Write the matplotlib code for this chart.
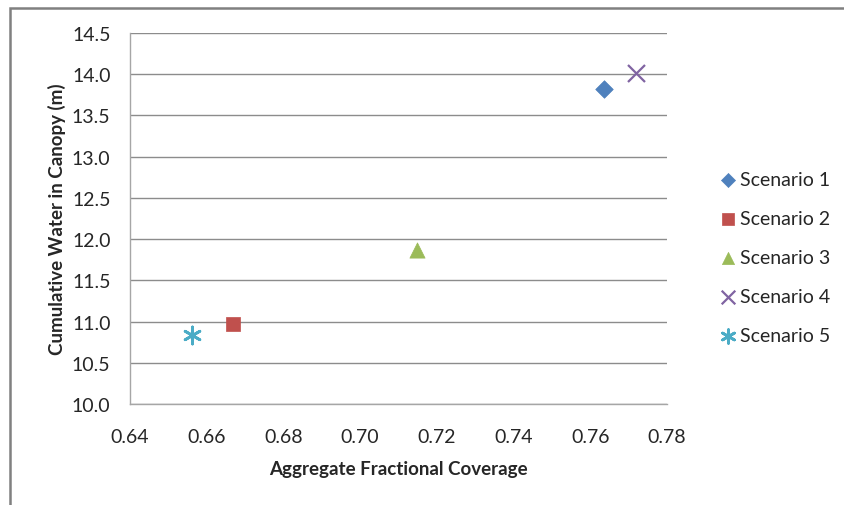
import matplotlib
matplotlib.use("Agg")
import matplotlib.pyplot as plt
from matplotlib.patches import Rectangle

scenarios = ["Scenario 1", "Scenario 2", "Scenario 3", "Scenario 4", "Scenario 5"]
coverage = [0.7636, 0.6669, 0.7148, 0.7719, 0.6562]
water = [13.82, 10.97, 11.87, 14.01, 10.835]
colors = ["#4F81BD", "#C0504D", "#9BBB59", "#8064A2", "#4BACC6"]
markers = ["D", "s", "^", "x", "*"]
sizes = [80, 110, 120, 150, 150]
xticks = [0.64, 0.66, 0.68, 0.70, 0.72, 0.74, 0.76, 0.78]
yticks = [10.0, 10.5, 11.0, 11.5, 12.0, 12.5, 13.0, 13.5, 14.0, 14.5]

plt.rcParams['font.family'] = ['Lato', 'DejaVu Sans']

W, H = 845, 506
fig = plt.figure(figsize=(W / 100, H / 100), dpi=100)
ax = fig.add_axes([130 / W, 1 - 405 / H, (667 - 130) / W, (405 - 34) / H])

for name, x, y, c, m, s in zip(scenarios, coverage, water, colors, markers, sizes):
    if m == "*":
        ax.scatter([x], [y], marker=(6, 2, 0), s=s, color=c, linewidths=2.0, label=name, zorder=3)
    elif m == "x":
        ax.scatter([x], [y], marker="x", s=s, color=c, linewidths=1.6, label=name, zorder=3)
    else:
        ax.scatter([x], [y], marker=m, s=s, color=c, edgecolors=c, linewidths=0.5, label=name, zorder=3)

ax.set_xlim(0.64, 0.78)
ax.set_ylim(10.0, 14.5)
ax.set_xticks(xticks)
ax.set_xticklabels([f"{v:.2f}" for v in xticks])
ax.set_yticks(yticks)
ax.set_yticklabels([f"{v:.1f}" for v in yticks])
ax.tick_params(axis='both', length=0, labelsize=14, colors='#262626')
ax.tick_params(axis='x', pad=17)
ax.tick_params(axis='y', pad=14)
ax.grid(axis='y', color='#8C8C8C', linewidth=1.0)
ax.set_axisbelow(True)
for side in ['top', 'right']:
    ax.spines[side].set_visible(False)
for side in ['left', 'bottom']:
    ax.spines[side].set_color('#A6A6A6')
    ax.spines[side].set_linewidth(1.0)

ax.set_xlabel("Aggregate Fractional Coverage", fontsize=13.5, fontweight='bold', color='#262626', labelpad=11)
ax.set_ylabel("Cumulative Water in Canopy (m)", fontsize=13.5, fontweight='bold', color='#262626', labelpad=4)

leg = fig.legend(loc='upper left', bbox_to_anchor=(710 / W, 1 - 164 / H), frameon=False,
                 fontsize=14, handletextpad=0.05, labelspacing=1.13, borderaxespad=0,
                 handlelength=1.1, scatterpoints=1, markerscale=0.8)
for t in leg.get_texts():
    t.set_color('#262626')

fig.add_artist(Rectangle((10 / W, -0.1), 1.2, 1 - 9 / H + 0.1, transform=fig.transFigure,
                         fill=False, edgecolor='#808080', linewidth=1.8))

fig.savefig("out.png", dpi=100)
